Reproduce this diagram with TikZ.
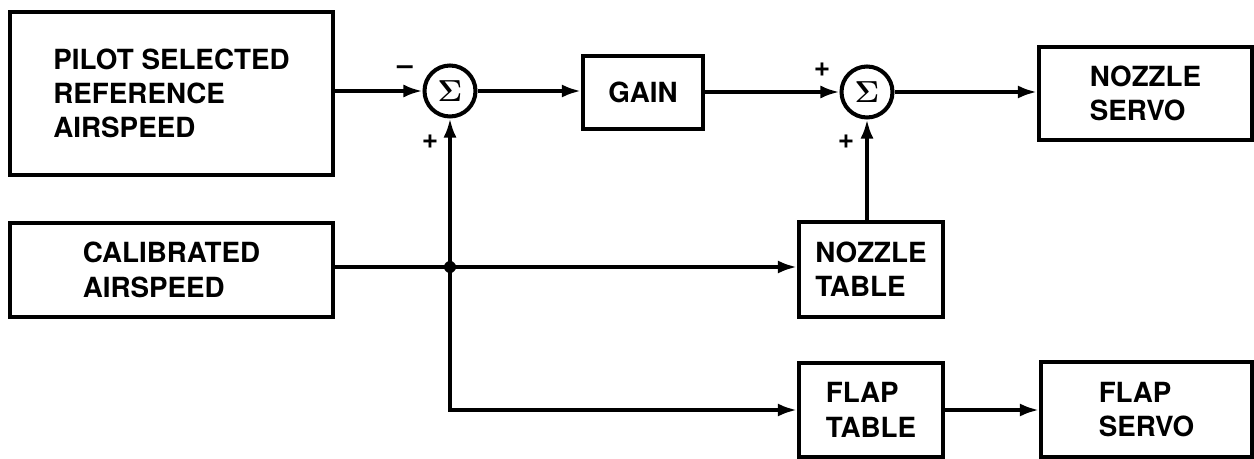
\documentclass[tikz,border=0pt]{standalone}
\usepackage{fontspec}
\setmainfont{TeX Gyre Heros}
\usetikzlibrary{arrows.meta}

\begin{document}
\begin{tikzpicture}[x=0.02cm,y=-0.02cm,
		blok/.style={draw,line width=2.4pt,inner sep=0pt,align=left,font=\fontsize{15.8}{19.5}\selectfont\bfseries},
		summer/.style={circle,draw,line width=2.3pt,inner sep=0pt,minimum size=1.02cm,font=\fontsize{17}{17}\selectfont\boldmath},
		sgn/.style={inner sep=0pt,font=\fontsize{16}{16}\selectfont\bfseries},
		conn/.style={line width=2pt,-{Latex[length=0.38cm,width=0.26cm]}},
		wire/.style={line width=2pt}]
	\useasboundingbox (0,0) rectangle (1254,459);
	% blocks
	\node[blok,minimum width=6.46cm,minimum height=3.26cm] (pilot) at (171.5,93.5) {PILOT SELECTED\\REFERENCE\\AIRSPEED};
	\node[blok,minimum width=6.46cm,minimum height=1.88cm] (cal) at (171.5,270) {CALIBRATED\\AIRSPEED};
	\node[blok,minimum width=2.4cm,minimum height=1.46cm] (gain) at (643,92.5) {GAIN};
	\node[blok,minimum width=4.26cm,minimum height=1.86cm] (nservo) at (1145.5,93.5) {NOZZLE\\SERVO};
	\node[blok,minimum width=2.88cm,minimum height=1.9cm] (ntable) at (871,269.5) {NOZZLE\\TABLE};
	\node[blok,minimum width=2.88cm,minimum height=1.88cm] (ftable) at (871,410) {FLAP\\TABLE};
	\node[blok,minimum width=4.22cm,minimum height=1.9cm] (fservo) at (1146.5,409.5) {FLAP\\SERVO};
	% summing points
	\node[summer] (sum1) at (450,91) {$\Sigma$};
	\node[summer] (sum2) at (867,92) {$\Sigma$};
	\node[sgn] (minus1) at (405,70) {--};
	\node[sgn] (plus1) at (430,142) {+};
	\node[sgn] (plus2) at (822,70) {+};
	\node[sgn] (plus3) at (846,142) {+};
	% junction
	\coordinate (split) at (450,267);
	\fill (split) circle (0.12cm);
	% connectors
	\draw[conn] (pilot.east |- sum1) -- (sum1.west);
	\draw[conn] (sum1.east) -- (sum1.east -| gain.west);
	\draw[conn] (gain.east |- sum2) -- (sum2.west);
	\draw[conn] (sum2.east) -- (sum2.east -| nservo.west);
	\draw[wire] (cal.east |- split) -- (split);
	\draw[conn] (split) -- (sum1.south);
	\draw[conn] (split) -- (ntable.west |- split);
	\draw[conn] (split) |- (ftable.west);
	\draw[conn] (ntable.north -| sum2) -- (sum2.south);
	\draw[conn] (ftable.east) -- (ftable.east -| fservo.west);
\end{tikzpicture}
\end{document}
